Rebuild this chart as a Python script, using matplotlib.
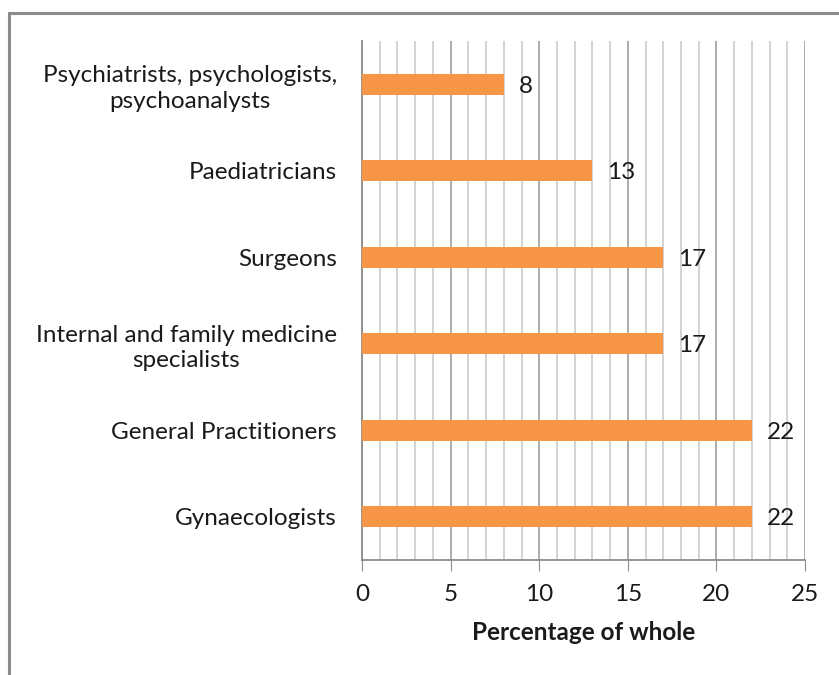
import numpy as np
import matplotlib.pyplot as plt
from matplotlib.patches import Rectangle

# Share of respondents by specialty
specialties = [
    'Gynaecologists',
    'General Practitioners',
    'Internal and family medicine\nspecialists',
    'Surgeons',
    'Paediatricians',
    'Psychiatrists, psychologists,\npsychoanalysts',
]
percentages = [22, 22, 17, 17, 13, 8]

plt.rcParams['font.family'] = ['Lato', 'DejaVu Sans']
FS = 17.5

fig = plt.figure(figsize=(8.39, 6.75), dpi=100)
ax = fig.add_axes([0.4315, 0.1704, 0.528, 0.7689])

# Outer frame of the chart area
fig.patches.append(Rectangle((9 / 839, -0.1), 1.2, 1 - 13 / 675 + 0.1,
                             transform=fig.transFigure, fill=False,
                             edgecolor='#8c8c8c', linewidth=2.2))

y = np.arange(len(specialties))
ax.barh(y, percentages, height=0.245, color='#F79646', zorder=3)

for yi, v in zip(y, percentages):
    ax.text(v + 0.85, yi, str(v), va='center_baseline', ha='left', fontsize=FS,
            color='#1a1a1a')

ax.set_xlim(0, 25)
ax.set_ylim(-0.5, 5.5)
ax.set_xticks(np.arange(0, 26, 5))
ax.set_xticks(np.arange(0, 26, 1), minor=True)
ax.set_yticks(y)
ax.set_yticklabels(specialties, fontsize=FS, color='#1a1a1a', linespacing=1.27,
                   multialignment='center')
ax.tick_params(axis='y', length=0, pad=18)
ax.tick_params(axis='x', which='major', length=8, color='#8c8c8c', labelsize=FS,
               labelcolor='#1a1a1a', pad=9)
ax.tick_params(axis='x', which='minor', length=0)

ax.grid(axis='x', which='minor', color='#d0d0d0', linewidth=1.3, zorder=0)
ax.grid(axis='x', which='major', color='#a6a6a6', linewidth=1.3, zorder=0)

for side in ['top', 'right']:
    ax.spines[side].set_visible(False)
for side in ['left', 'bottom']:
    ax.spines[side].set_color('#8c8c8c')
    ax.spines[side].set_linewidth(1.3)

ax.set_xlabel('Percentage of whole', fontsize=FS, fontweight='bold', color='#1a1a1a',
              labelpad=12)

fig.savefig('out.png', dpi=100)
